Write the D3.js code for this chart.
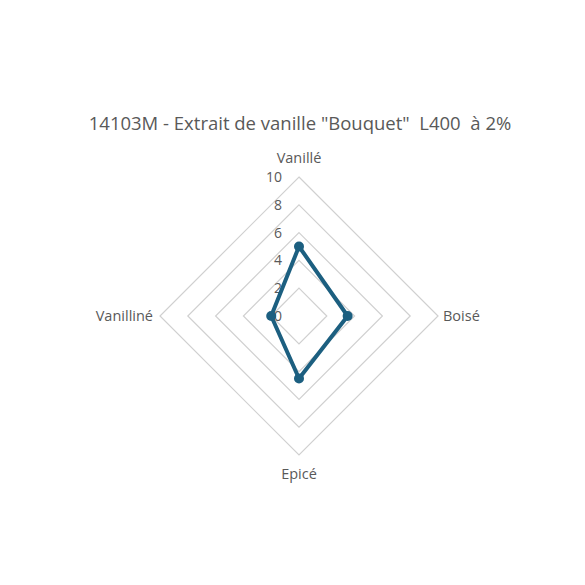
<!DOCTYPE html>
<html>
<head>
<meta charset="utf-8">
<script src="https://cdn.jsdelivr.net/npm/d3@7"></script>
<style>
  body { margin: 0; background: #fff; }
  text { font-family: "Open Sans", "Noto Sans", sans-serif; }
</style>
</head>
<body>
<div id="chart"></div>
<script>
// chart data
const title = '14103M - Extrait de vanille "Bouquet"  L400  à 2%';
const axes = ["Vanillé", "Boisé", "Epicé", "Vanilliné"];
const values = [5, 3.5, 4.5, 2];
const ticks = [0, 2, 4, 6, 8, 10];

const W = 585, H = 585;
const cx = 299, cy = 316, R = 139;

const svg = d3.select("#chart").append("svg")
  .attr("width", W).attr("height", H);

const r = d3.scaleLinear().domain([0, 10]).range([0, R]);
const angle = d3.scalePoint().domain(axes).range([0, 2 * Math.PI * (axes.length - 1) / axes.length]);

function pt(a, v) {
  const t = angle(a) - Math.PI / 2;
  return [cx + r(v) * Math.cos(t), cy + r(v) * Math.sin(t)];
}

// title (keep the double spaces)
svg.append("text")
  .attr("x", 300).attr("y", 130)
  .attr("text-anchor", "middle")
  .attr("font-size", 18.5)
  .attr("fill", "#595959")
  .style("white-space", "pre")
  .text(title);

// grid rings
const line = d3.line();
svg.selectAll("path.ring")
  .data(ticks.filter(d => d > 0))
  .enter().append("path")
  .attr("class", "ring")
  .attr("d", d => line(axes.map(a => pt(a, d))) + "Z")
  .attr("fill", "none")
  .attr("stroke", "#d0d0d0")
  .attr("stroke-width", 1.2);

// tick labels
svg.selectAll("text.tick")
  .data(ticks)
  .enter().append("text")
  .attr("class", "tick")
  .attr("x", cx - 17)
  .attr("y", d => cy - r(d))
  .attr("dy", "0.35em")
  .attr("text-anchor", "end")
  .attr("font-size", 14)
  .attr("fill", "#595959")
  .text(d => d);

// axis labels
svg.selectAll("text.axis")
  .data(axes)
  .enter().append("text")
  .attr("class", "axis")
  .each(function(a, i) {
    const p = pt(a, 10);
    const s = d3.select(this);
    if (i === 0) s.attr("x", p[0]).attr("y", p[1] - 14).attr("text-anchor", "middle");
    if (i === 1) s.attr("x", p[0] + 5).attr("y", p[1]).attr("dy", "0.35em").attr("text-anchor", "start");
    if (i === 2) s.attr("x", p[0]).attr("y", p[1] + 24).attr("text-anchor", "middle");
    if (i === 3) s.attr("x", p[0] - 7).attr("y", p[1]).attr("dy", "0.35em").attr("text-anchor", "end");
  })
  .attr("font-size", 14.5)
  .attr("fill", "#595959")
  .text(a => a);

// series
const color = "#1c5f80";
svg.append("path")
  .attr("d", line(axes.map((a, i) => pt(a, values[i]))) + "Z")
  .attr("fill", "none")
  .attr("stroke", color)
  .attr("stroke-width", 4)
  .attr("stroke-linejoin", "round");

svg.selectAll("circle")
  .data(values)
  .enter().append("circle")
  .attr("cx", (d, i) => pt(axes[i], d)[0])
  .attr("cy", (d, i) => pt(axes[i], d)[1])
  .attr("r", 5)
  .attr("fill", color);
</script>
</body>
</html>
